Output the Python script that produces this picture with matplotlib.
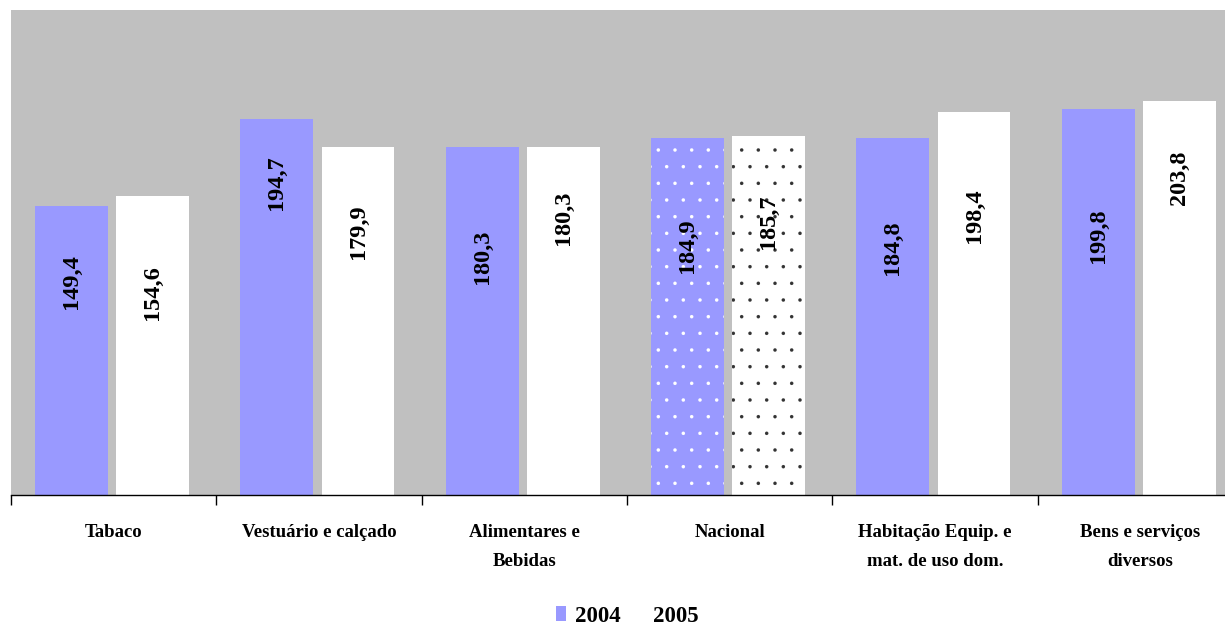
import numpy as np
import matplotlib
matplotlib.use("Agg")
from matplotlib import pyplot as plt
from matplotlib.patches import Patch

categories = ["Tabaco", "Vestuário e calçado", "Alimentares e\nBebidas",
              "Nacional", "Habitação Equip. e\nmat. de uso dom.",
              "Bens e serviços\ndiversos"]
v2004 = [149.4, 194.7, 180.3, 184.9, 184.8, 199.8]
v2005 = [154.6, 179.9, 180.3, 185.7, 198.4, 203.8]
years = ["2004", "2005"]

# label centres (data units), as placed in the original
lab2004 = [110.7, 161.9, 123.1, 128.8, 127.8, 134.0]
lab2005 = [104.5, 136.1, 143.3, 141.2, 144.3, 164.0]

blue = "#9999FF"
serif = ["Liberation Serif", "DejaVu Serif"]
plt.rcParams["hatch.linewidth"] = 0.1

fig = plt.figure(figsize=(12.25, 6.28), dpi=100)
W, H = 1225, 628
ax = fig.add_axes([11 / W, 1 - 495 / H, 1232 / W, 485 / H])
ax.set_facecolor("#C0C0C0")

x = np.arange(len(categories))
w = 0.355
hl = categories.index("Nacional")
for i in x:
    if i == hl:
        ax.bar(i - 0.205, v2004[i], w, color=blue, edgecolor="white", hatch=".", linewidth=0)
        ax.bar(i + 0.19, v2005[i], w, color="white", edgecolor="#333333", hatch=".", linewidth=0)
    else:
        ax.bar(i - 0.205, v2004[i], w, color=blue, linewidth=0)
        ax.bar(i + 0.19, v2005[i], w, color="white", linewidth=0)
    ax.text(i - 0.205, lab2004[i], f"{v2004[i]:.1f}".replace(".", ","), rotation=90,
            ha="center", va="center", fontsize=17.5, fontweight="bold", family=serif)
    ax.text(i + 0.19, lab2005[i], f"{v2005[i]:.1f}".replace(".", ","), rotation=90,
            ha="center", va="center", fontsize=17.5, fontweight="bold", family=serif)

ax.set_xlim(-0.5, len(categories) - 0.5)
ax.set_ylim(0, 251)
ax.set_yticks([])
for s in ["left", "right", "top"]:
    ax.spines[s].set_visible(False)
ax.spines["bottom"].set_color("black")
ax.spines["bottom"].set_linewidth(1)

ax.set_xticks(np.arange(len(categories) + 1) - 0.5)
ax.set_xticklabels([])
ax.tick_params(axis="x", which="major", length=7, width=1, direction="out")
ax.set_xticks(x, minor=True)
ax.set_xticklabels(categories, minor=True, fontsize=13.5, fontweight="bold",
                   family=serif, linespacing=1.9)
ax.tick_params(axis="x", which="minor", length=0, pad=21)

handles = [Patch(facecolor=blue, edgecolor="none"), Patch(facecolor="white", edgecolor="none")]
fig.legend(handles, years, loc="center", bbox_to_anchor=(627 / W, 1 - 616 / H), ncol=2,
           frameon=False, prop={"family": serif, "weight": "bold", "size": 16.5},
           handlelength=0.45, handleheight=0.6, handletextpad=0.4, columnspacing=0.55,
           borderpad=0, borderaxespad=0)

fig.savefig("out.png", dpi=100)
